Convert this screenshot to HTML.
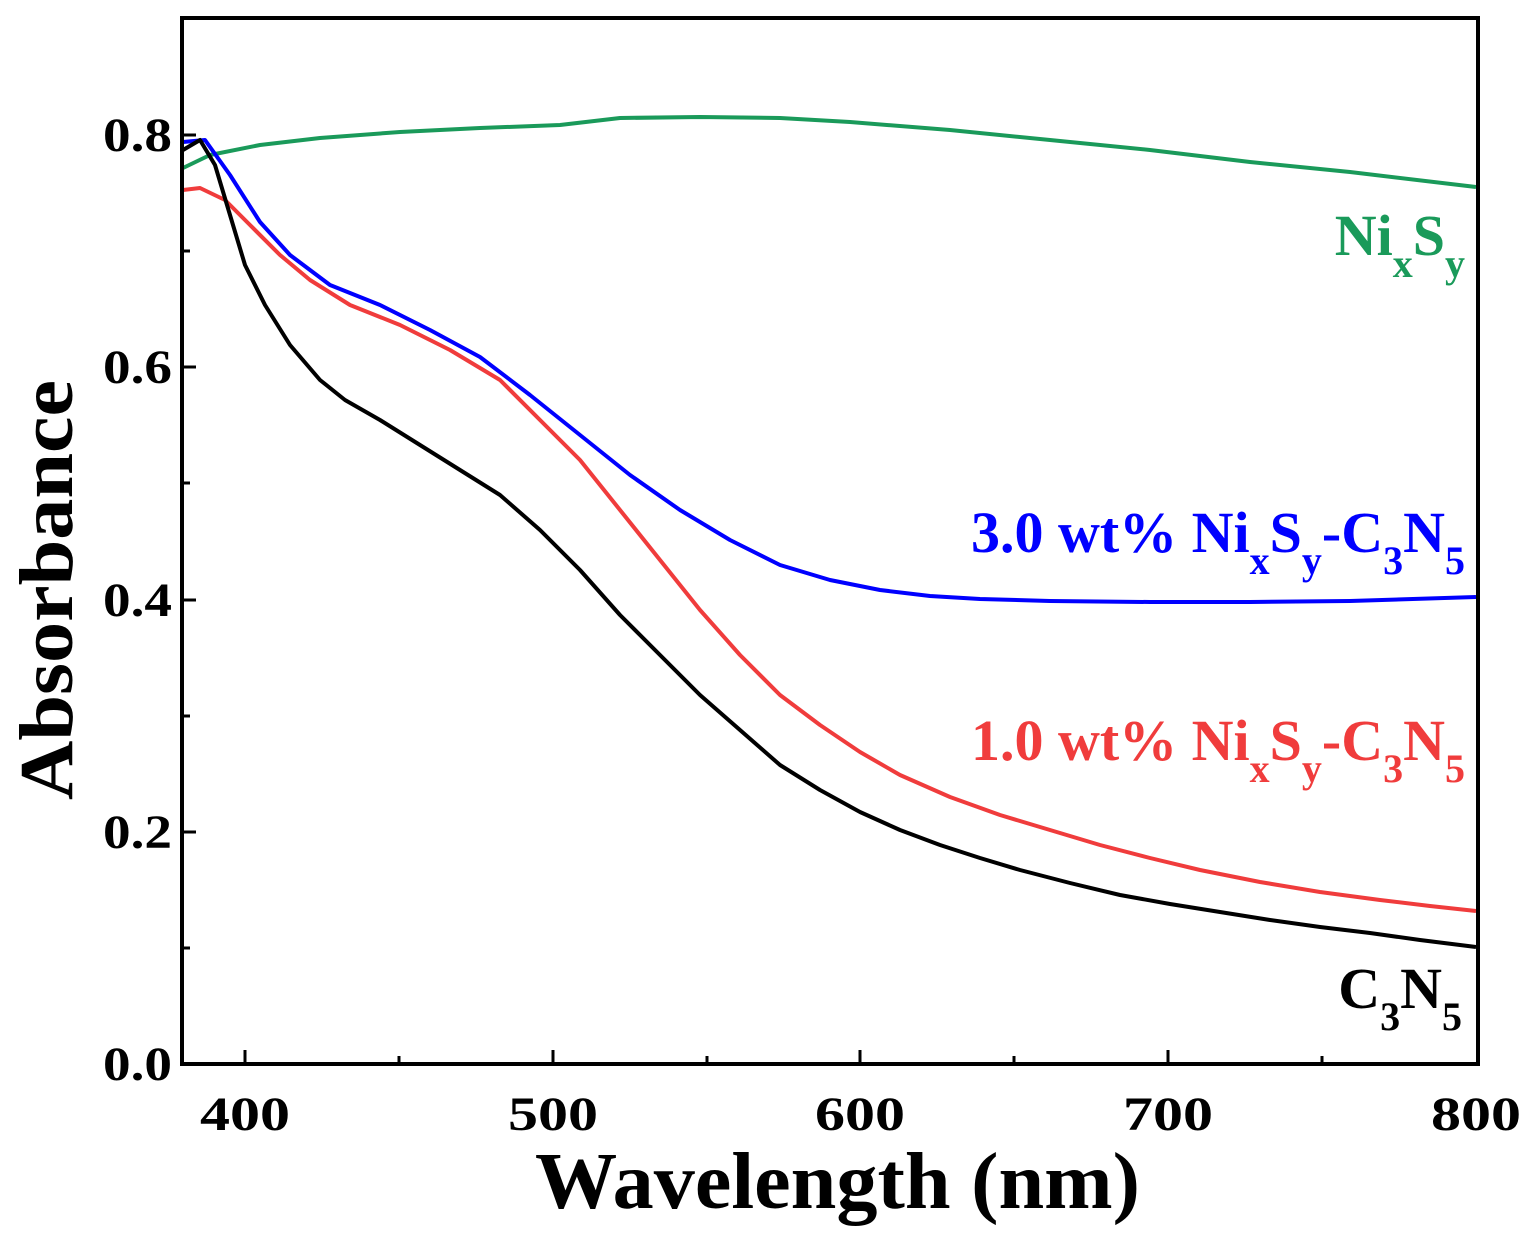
<!DOCTYPE html>
<html><head><style>body{margin:0;background:#fff}svg{display:block}</style></head><body>
<svg width="1529" height="1239" viewBox="0 0 1529 1239" xmlns="http://www.w3.org/2000/svg" font-family="Liberation Serif, serif" font-weight="bold">
<rect x="0" y="0" width="1529" height="1239" fill="#fff"/>
<g fill="none" stroke-width="4" stroke-linejoin="round">
<polyline stroke="#1a9a5a" points="183,168 210,155 260,145 320,138 400,132 480,128 560,125 620,118 700,117 780,118 850,122 950,130 1050,140 1150,150 1250,162 1350,172 1476,187"/>
<polyline stroke="#0000ff" points="183,142 205,140 230,175 260,222 290,255 330,285 380,305 430,330 480,357 530,395 580,435 630,475 680,510 730,540 780,565 830,580 880,590 930,596 980,599 1050,601 1150,602 1250,602 1350,601 1476,597"/>
<polyline stroke="#f03c3c" points="183,190 200,188 225,200 250,225 280,255 310,280 350,305 400,325 450,350 500,380 540,420 580,460 620,510 660,560 700,610 740,655 780,695 820,725 860,752 900,775 950,797 1000,815 1050,830 1100,845 1150,858 1200,870 1260,882 1320,892 1380,900 1430,906 1476,911"/>
<polyline stroke="#000" points="183,150 200,140 215,165 230,215 245,265 265,305 290,345 320,380 345,400 380,420 420,445 460,470 500,495 540,530 580,570 620,615 660,655 700,695 740,730 780,765 820,790 860,812 900,830 940,845 980,858 1020,870 1070,883 1120,895 1170,904 1220,912 1270,920 1320,927 1370,933 1420,940 1476,947"/>
</g>
<rect x="182" y="18" width="1296" height="1046" fill="none" stroke="#000" stroke-width="4"/>
<g stroke="#000" stroke-width="3">
<line x1="182" y1="1064" x2="196" y2="1064"/><line x1="182" y1="948" x2="190" y2="948"/>
<line x1="182" y1="832" x2="196" y2="832"/><line x1="182" y1="716" x2="190" y2="716"/>
<line x1="182" y1="600" x2="196" y2="600"/><line x1="182" y1="483" x2="190" y2="483"/>
<line x1="182" y1="367" x2="196" y2="367"/><line x1="182" y1="251" x2="190" y2="251"/>
<line x1="182" y1="135" x2="196" y2="135"/>
<line x1="245" y1="1064" x2="245" y2="1050"/><line x1="399" y1="1064" x2="399" y2="1056"/>
<line x1="553" y1="1064" x2="553" y2="1050"/><line x1="707" y1="1064" x2="707" y2="1056"/>
<line x1="860" y1="1064" x2="860" y2="1050"/><line x1="1014" y1="1064" x2="1014" y2="1056"/>
<line x1="1168" y1="1064" x2="1168" y2="1050"/><line x1="1322" y1="1064" x2="1322" y2="1056"/>
</g>
<g font-size="48">
<text x="103" y="1080" textLength="69" lengthAdjust="spacingAndGlyphs">0.0</text>
<text x="103" y="848" textLength="69" lengthAdjust="spacingAndGlyphs">0.2</text>
<text x="103" y="616" textLength="69" lengthAdjust="spacingAndGlyphs">0.4</text>
<text x="103" y="383" textLength="69" lengthAdjust="spacingAndGlyphs">0.6</text>
<text x="103" y="151" textLength="69" lengthAdjust="spacingAndGlyphs">0.8</text>
<text x="200" y="1130" textLength="90" lengthAdjust="spacingAndGlyphs">400</text>
<text x="508" y="1130" textLength="90" lengthAdjust="spacingAndGlyphs">500</text>
<text x="815" y="1130" textLength="90" lengthAdjust="spacingAndGlyphs">600</text>
<text x="1123" y="1130" textLength="90" lengthAdjust="spacingAndGlyphs">700</text>
<text x="1431" y="1130" textLength="90" lengthAdjust="spacingAndGlyphs">800</text>
</g>
<text x="535" y="1208" font-size="80" textLength="605" lengthAdjust="spacingAndGlyphs">Wavelength (nm)</text>
<text transform="translate(72,800) rotate(-90)" font-size="76" textLength="420" lengthAdjust="spacingAndGlyphs">Absorbance</text>
<g font-size="58" text-anchor="end">
<text x="1465" y="255" fill="#1a9a5a">Ni<tspan font-size="40" dy="22">x</tspan><tspan dy="-22">S</tspan><tspan font-size="40" dy="22">y</tspan></text>
<text x="1465" y="552" fill="#0000ff">3.0 wt% Ni<tspan font-size="40" dy="22">x</tspan><tspan dy="-22">S</tspan><tspan font-size="40" dy="22">y</tspan><tspan dy="-22">-C</tspan><tspan font-size="40" dy="22">3</tspan><tspan dy="-22">N</tspan><tspan font-size="40" dy="22">5</tspan></text>
<text x="1465" y="760" fill="#f03c3c">1.0 wt% Ni<tspan font-size="40" dy="22">x</tspan><tspan dy="-22">S</tspan><tspan font-size="40" dy="22">y</tspan><tspan dy="-22">-C</tspan><tspan font-size="40" dy="22">3</tspan><tspan dy="-22">N</tspan><tspan font-size="40" dy="22">5</tspan></text>
<text x="1462" y="1008" fill="#000">C<tspan font-size="40" dy="22">3</tspan><tspan dy="-22">N</tspan><tspan font-size="40" dy="22">5</tspan></text>
</g>
</svg>
</body></html>
